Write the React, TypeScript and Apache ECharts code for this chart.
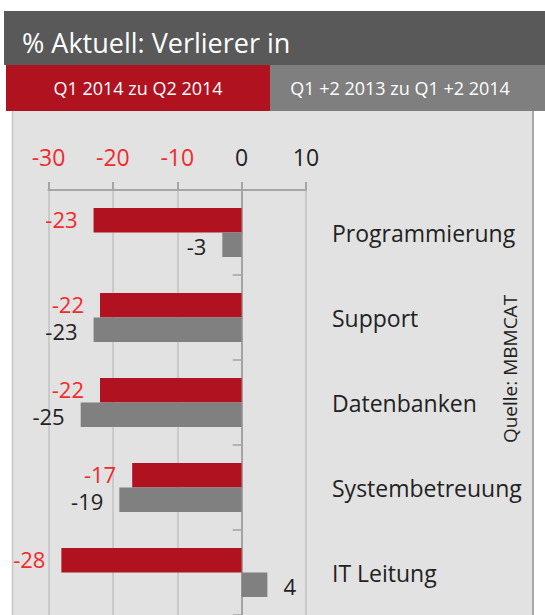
import React, { useEffect, useRef } from "react";
import * as echarts from "echarts";

const categories = ["Programmierung", "Support", "Datenbanken", "Systembetreuung", "IT Leitung"];
const seriesNames = ["Q1 2014 zu Q2 2014", "Q1 +2 2013 zu Q1 +2 2014"];
const redValues = [-23, -22, -22, -17, -28];
const grayValues = [-3, -23, -25, -19, 4];
const titleText = "% Aktuell: Verlierer in";
const sourceText = "Quelle: MBMCAT";

const RED = "#b0121f";
const GRAY = "#808080";
const LABEL_RED = "#f22a2a";
const FONT = "'Open Sans', sans-serif";

export default function App() {
  const ref = useRef<HTMLDivElement>(null);
  useEffect(() => {
    if (!ref.current) return;
    const chart = echarts.init(ref.current, undefined, { renderer: "svg" });
    const option: any = {
      animation: false,
      backgroundColor: "#ffffff",
      textStyle: { fontFamily: FONT },
      graphic: [
        { type: "rect", z: -10, shape: { x: 12, y: 111, width: 521, height: 510 }, style: { fill: "#e2e2e2" } },
        { type: "line", z: -9, shape: { x1: 12.5, y1: 111, x2: 12.5, y2: 615 }, style: { stroke: "#c4c4c4", lineWidth: 1.5 } },
        { type: "line", z: -9, shape: { x1: 533, y1: 111, x2: 533, y2: 615 }, style: { stroke: "#a8a8a8", lineWidth: 2 } },
        { type: "rect", z: 5, shape: { x: 4, y: 11, width: 541, height: 54 }, style: { fill: "#595959" } },
        { type: "text", z: 6, x: 22, y: 42, style: { text: titleText, fill: "#ffffff", font: `27px ${FONT}`, textVerticalAlign: "middle" } },
        { type: "rect", z: 5, shape: { x: 6, y: 65, width: 264, height: 46 }, style: { fill: RED } },
        { type: "rect", z: 5, shape: { x: 270, y: 65, width: 275, height: 46 }, style: { fill: "#7f7f7f" } },
        { type: "text", z: 6, x: 138, y: 88, style: { text: seriesNames[0], fill: "#ffffff", font: `18px ${FONT}`, textAlign: "center", textVerticalAlign: "middle" } },
        { type: "text", z: 6, x: 400, y: 88, style: { text: seriesNames[1], fill: "#ffffff", font: `18px ${FONT}`, textAlign: "center", textVerticalAlign: "middle" } },
        { type: "text", z: 6, x: 510, y: 369, rotation: Math.PI / 2, style: { text: sourceText, fill: "#222222", font: `19px ${FONT}`, textAlign: "center", textVerticalAlign: "middle" } },
      ],
      grid: { left: 48.5, right: 239, top: 190, height: 427, containLabel: false },
      xAxis: {
        type: "value",
        position: "top",
        min: -30,
        max: 10,
        interval: 10,
        axisLine: { show: true, lineStyle: { color: "#a5a5a5", width: 2 } },
        axisTick: { show: true, length: 8, lineStyle: { color: "#a5a5a5", width: 2 } },
        axisLabel: {
          fontSize: 23,
          fontFamily: FONT,
          margin: 22,
          color: (v: any) => (Number(v) < 0 ? LABEL_RED : "#222222"),
        },
        splitLine: { show: true, lineStyle: { color: "#c2c2c2", width: 1.5 } },
      },
      yAxis: [
        {
          type: "category",
          inverse: true,
          data: categories,
          axisLine: { show: true, onZero: true, lineStyle: { color: "#a3a3a3", width: 2 } },
          axisTick: { show: true, length: 9, lineStyle: { color: "#a3a3a3", width: 1.5 } },
          axisLabel: { show: false },
        },
        {
          type: "category",
          inverse: true,
          position: "right",
          data: categories,
          axisLine: { show: false, onZero: false },
          axisTick: { show: false },
          axisLabel: { margin: 26, fontSize: 23, fontFamily: FONT, color: "#222222" },
        },
      ],
      series: [
        {
          name: seriesNames[0],
          type: "bar",
          data: redValues,
          barWidth: 24.5,
          barGap: "0%",
          itemStyle: { color: RED },
          label: { show: true, position: "left", distance: 16, offset: [0, -1.5], fontSize: 22, lineHeight: 22, fontFamily: FONT, color: LABEL_RED },
        },
        {
          name: seriesNames[1],
          type: "bar",
          data: grayValues.map((v) => ({ value: v, label: { position: v < 0 ? "left" : "right" } })),
          barWidth: 24.5,
          barGap: "0%",
          itemStyle: { color: GRAY },
          label: { show: true, distance: 16, offset: [0, 1.5], fontSize: 22, lineHeight: 22, fontFamily: FONT, color: "#222222" },
        },
      ],
    };
    chart.setOption(option);
    return () => chart.dispose();
  }, []);
  return <div ref={ref} style={{ position: "fixed", left: 0, top: 0, width: 545, height: 615 }} />;
}
